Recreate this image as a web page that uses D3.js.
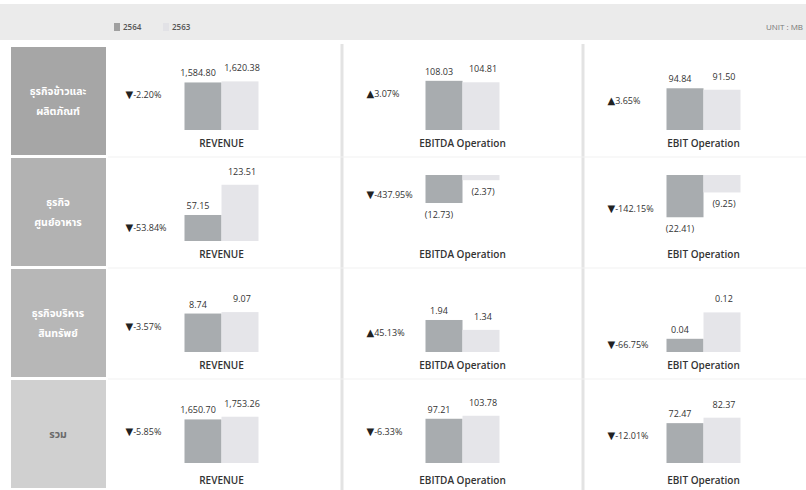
<!DOCTYPE html>
<html>
<head>
  <meta charset="utf-8">
  <title>ผลประกอบการ</title>
  <script src="https://cdn.jsdelivr.net/npm/d3@7"></script>
  <style>
    body { margin: 0; background: #fff; }
    text { font-family: "Open Sans", "Noto Sans", sans-serif; }
    .thai { font-family: "Noto Sans Thai", "Noto Sans", "DejaVu Sans", sans-serif; }
  </style>
</head>
<body>
<div id="vis"></div>
<script>
// ข้อมูลอ่านจากภาพ (ล้านบาท)
var years = ["2564", "2563"];
var metrics = ["REVENUE", "EBITDA Operation", "EBIT Operation"];
var business = ["ธุรกิจข้าวและผลิตภัณฑ์", "ธุรกิจศูนย์อาหาร", "ธุรกิจบริหารสินทรัพย์", "รวม"];
var businessLines = [["ธุรกิจข้าวและ", "ผลิตภัณฑ์"], ["ธุรกิจ", "ศูนย์อาหาร"], ["ธุรกิจบริหาร", "สินทรัพย์"], ["รวม"]];
var val2564 = [[1584.80, 108.03, 94.84], [57.15, -12.73, -22.41], [8.74, 1.94, 0.04], [1650.70, 97.21, 72.47]];
var val2563 = [[1620.38, 104.81, 91.50], [123.51, -2.37, -9.25], [9.07, 1.34, 0.12], [1753.26, 103.78, 82.37]];
var change = [["-2.20%", "3.07%", "3.65%"], ["-53.84%", "-437.95%", "-142.15%"], ["-3.57%", "45.13%", "-66.75%"], ["-5.85%", "-6.33%", "-12.01%"]];
// ปลายแกนของกราฟเล็กแต่ละช่อง
var axisEnd = [[2200, 145, 150], [145, -30, -35], [15, 4, 0.2], [2500, 145, 120]];

var W = 806, H = 490;
var headFill = ["#a6a6a6", "#b2b2b2", "#b7b7b7", "#d0d0d0"];
var barFill = {"2564": "#a8acaf", "2563": "#e5e5e9"};

var svg = d3.select("#vis").append("svg")
  .attr("width", W)
  .attr("height", H);

var row = d3.scaleBand().domain(business).range([47, 491]);
var col = d3.scaleBand().domain(metrics).range([101, 824]);
var bx = d3.scaleBand().domain(years).range([-37, 37]);

var fmt = d3.format(",.2f");
function lbl(v) { return v < 0 ? "(" + fmt(-v) + ")" : fmt(v); }

// แถบหัว + legend
svg.append("rect").attr("x", 0).attr("y", 4).attr("width", W).attr("height", 36).attr("fill", "#ebebeb");
years.forEach(function(yr, i) {
  var lx = 114 + i * 49;
  svg.append("rect").attr("x", lx).attr("y", 23).attr("width", 6).attr("height", 8)
    .attr("fill", i == 0 ? "#a0a0a0" : "#e2e2e6");
  svg.append("text").attr("x", lx + 9).attr("y", 30).attr("font-size", 8).attr("font-weight", 600)
    .attr("fill", "#555").text(yr);
});
svg.append("text").attr("x", 803).attr("y", 30).attr("text-anchor", "end").attr("font-size", 8)
  .attr("fill", "#777").text("UNIT : MB");

// เส้นแบ่งคอลัมน์
metrics.slice(1).forEach(function(m) {
  svg.append("line").attr("x1", col(m)).attr("x2", col(m)).attr("y1", 44).attr("y2", H)
    .attr("stroke", "#e3e3e3").attr("stroke-width", 3);
});
business.slice(1).forEach(function(b) {
  svg.append("line").attr("x1", 108).attr("x2", W).attr("y1", row(b) - 1).attr("y2", row(b) - 1)
    .attr("stroke", "#f1f1f1").attr("stroke-width", 1);
});

// หัวแถว
var heads = svg.selectAll("g.head").data(business).enter().append("g").attr("class", "head");
heads.append("rect")
  .attr("x", 11).attr("y", function(d) { return row(d); })
  .attr("width", 95).attr("height", row.bandwidth() - 3)
  .attr("fill", function(d, i) { return headFill[i]; });
heads.each(function(d, i) {
  var lines = businessLines[i];
  var cy = row(d) + (row.bandwidth() - 3) / 2;
  d3.select(this).selectAll("text").data(lines).enter().append("text")
    .attr("class", "thai")
    .attr("x", 58)
    .attr("y", function(t, j) { return cy + 4 + (j - (lines.length - 1) / 2) * 20; })
    .attr("text-anchor", "middle")
    .attr("font-size", 10.5).attr("font-weight", 700)
    .attr("fill", i == 3 ? "#6a6a6a" : "#fff")
    .text(function(t) { return t; });
});

// กราฟเล็ก
business.forEach(function(b, r) {
  var top = row(b);
  metrics.forEach(function(m, c) {
    var cx = col(m) + col.bandwidth() / 2;
    var vals = [val2564[r][c], val2563[r][c]];
    var y = d3.scaleLinear()
      .domain([Math.min(0, axisEnd[r][c]), Math.max(0, axisEnd[r][c])])
      .range([top + 83, top + 17]);
    var g = svg.append("g");
    var data = years.map(function(yr, i) { return {yr: yr, v: vals[i]}; });

    g.selectAll("rect").data(data).enter().append("rect")
      .attr("x", function(d) { return cx + bx(d.yr); })
      .attr("y", function(d) { return Math.min(y(d.v), y(0)); })
      .attr("width", bx.bandwidth())
      .attr("height", function(d) { return Math.abs(y(d.v) - y(0)); })
      .attr("fill", function(d) { return barFill[d.yr]; });

    g.selectAll("text.val").data(data).enter().append("text")
      .attr("class", "val")
      .attr("x", function(d, i) { return cx + bx(d.yr) + bx.bandwidth() / 2 + (i == 0 ? -5 : 2); })
      .attr("y", function(d, i) { return d.v < 0 ? y(d.v) + 15 : y(d.v) - (i == 0 ? 6 : 10); })
      .attr("text-anchor", "middle")
      .attr("font-size", 9).attr("fill", "#333")
      .text(function(d) { return lbl(d.v); });

    // % เปลี่ยนแปลง
    var v0 = vals[0];
    var h0 = Math.abs(y(v0) - y(0));
    var py = v0 < 0 ? y(v0) - Math.min(8, h0 / 2) : y(v0) + Math.min(13, h0 / 2);
    var up = change[r][c].charAt(0) != "-";
    var pt = g.append("text")
      .attr("x", cx - 96).attr("y", py + 3)
      .attr("font-size", 9).attr("fill", "#333");
    pt.append("tspan").attr("font-family", "DejaVu Sans").attr("font-size", 10).attr("fill", "#222")
      .text(up ? "▲" : "▼");
    pt.append("tspan").text(change[r][c]);

    g.append("text")
      .attr("x", cx).attr("y", top + 100 + (r == 3 ? 4 : 0))
      .attr("text-anchor", "middle")
      .attr("font-size", 10).attr("font-weight", 600).attr("fill", "#333")
      .text(m);
  });
});
</script>
</body>
</html>
